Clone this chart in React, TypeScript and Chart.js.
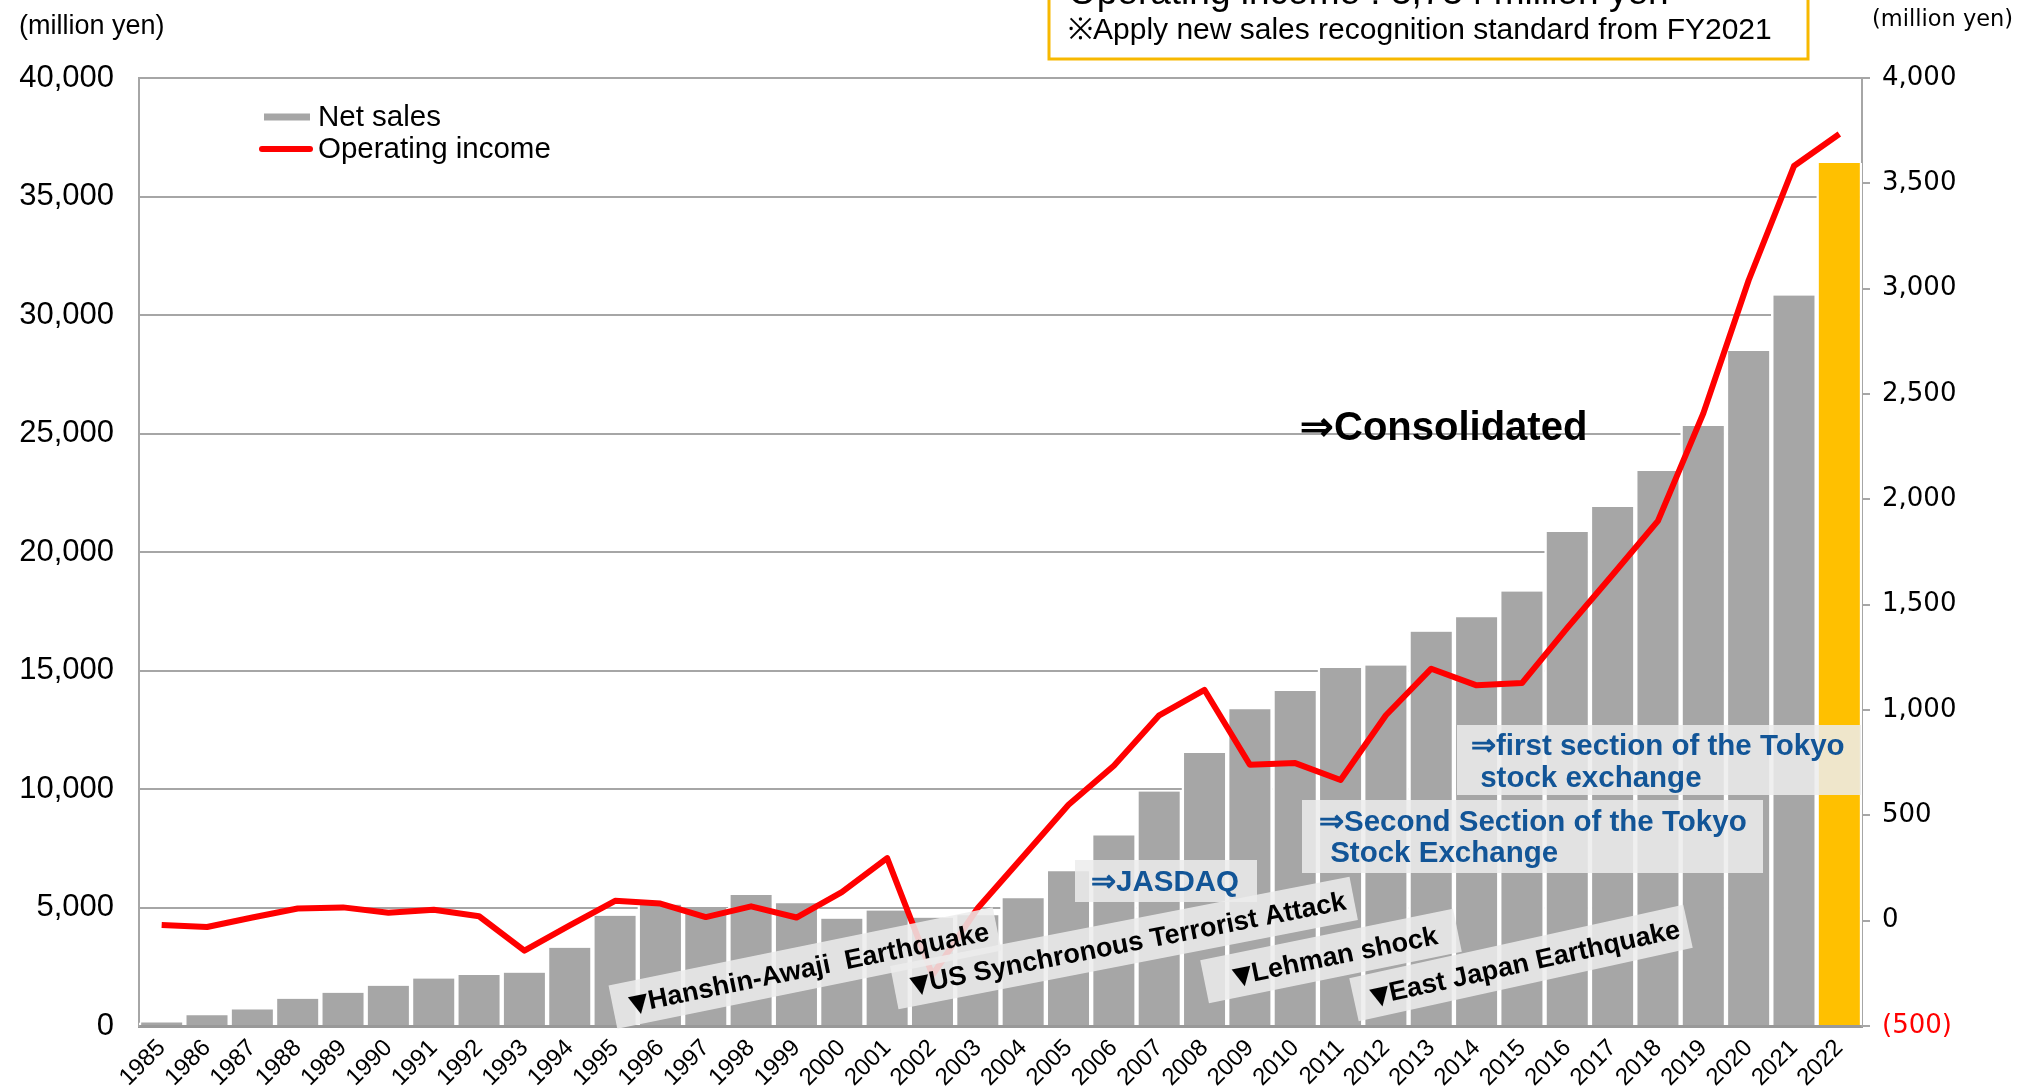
import React, { useEffect, useRef } from "react";
import { Chart, registerables } from "chart.js";

Chart.register(...registerables);

const years = [
  "1985", "1986", "1987", "1988", "1989", "1990", "1991", "1992", "1993", "1994",
  "1995", "1996", "1997", "1998", "1999", "2000", "2001", "2002", "2003", "2004",
  "2005", "2006", "2007", "2008", "2009", "2010", "2011", "2012", "2013", "2014",
  "2015", "2016", "2017", "2018", "2019", "2020", "2021", "2022",
];

const netSales = [
  150, 450, 700, 1150, 1400, 1700, 2000, 2150, 2250, 3300,
  4650, 5120, 4980, 5530, 5180, 4530, 4870, 4570, 4670, 5390,
  6530, 8040, 9890, 11520, 13370, 14140, 15110, 15210, 16640, 17250,
  18330, 20840, 21900, 23420, 25320, 28480, 30820, 36410,
];

const operatingIncome = [
  -20, -30, 15, 58, 63, 38, 52, 21, -142, -22,
  94, 81, 17, 68, 15, 135, 297, -258, 60, 305,
  550, 735, 975, 1095, 740, 748, 668, 975, 1196, 1117,
  1128, 1390, 1642, 1898, 2408, 3040, 3582, 3734,
];

const leftTicks = { min: 0, max: 40000, step: 5000 };
const rightTicks = { min: -500, max: 4000, step: 500 };

const seriesNames = ["Net sales", "Operating income"];
const unitLabel = "(million yen)";
const headlineLines = [
  "Operating income : 3,734 million yen",
  "※Apply new sales recognition standard from FY2021",
];
const consolidatedLabel = "⇒Consolidated";
const eventMarker = "▼";
const eventLabels = [
  "Hanshin-Awaji  Earthquake",
  "US Synchronous Terrorist Attack",
  "Lehman shock",
  "East Japan Earthquake",
];
const listingLabels = [
  ["⇒JASDAQ"],
  ["⇒Second Section of the Tokyo", " Stock Exchange"],
  ["⇒first section of the Tokyo", " stock exchange"],
];

const SANS = "'Liberation Sans', Arial, sans-serif";
const WIDE = "'DejaVu Sans', Verdana, sans-serif";
const GRAY_BAR = "#a6a6a6";
const GOLD = "#ffc000";
const BOX_FILL = "rgba(236,236,236,0.86)";
const BLUE = "#125597";

const overlayPlugin = {
  id: "overlay",
  afterDraw(chart: any) {
    const ctx: CanvasRenderingContext2D = chart.ctx;
    ctx.save();

    // unit labels
    ctx.fillStyle = "#000";
    ctx.textBaseline = "middle";
    ctx.textAlign = "left";
    ctx.font = `27px ${SANS}`;
    ctx.fillText(unitLabel, 19, 27);
    ctx.font = `22.5px ${WIDE}`;
    ctx.fillText(unitLabel, 1872, 20);

    // legend
    ctx.lineCap = "butt";
    ctx.strokeStyle = GRAY_BAR;
    ctx.lineWidth = 7;
    ctx.beginPath();
    ctx.moveTo(264, 117);
    ctx.lineTo(310, 117);
    ctx.stroke();
    ctx.strokeStyle = "#ff0000";
    ctx.lineWidth = 6;
    ctx.lineCap = "round";
    ctx.beginPath();
    ctx.moveTo(262, 149);
    ctx.lineTo(310, 149);
    ctx.stroke();
    ctx.fillStyle = "#000";
    ctx.font = `29.5px ${SANS}`;
    ctx.fillText(seriesNames[0], 318, 118);
    ctx.fillText(seriesNames[1], 318, 150);

    // headline box (cut at top)
    ctx.fillStyle = "#fff";
    ctx.fillRect(1049, -40, 759, 99);
    ctx.strokeStyle = "#f7b800";
    ctx.lineWidth = 3;
    ctx.strokeRect(1049, -40, 759, 99);
    ctx.fillStyle = "#000";
    ctx.textBaseline = "alphabetic";
    ctx.font = `37px ${SANS}`;
    ctx.fillText(headlineLines[0], 1068, 4);
    ctx.font = `30px ${SANS}`;
    ctx.fillText(headlineLines[1], 1068, 39);

    // consolidated
    ctx.textBaseline = "middle";
    ctx.font = `bold 40px ${SANS}`;
    ctx.fillText(consolidatedLabel, 1300, 429);

    // listing boxes
    const drawListing = (x: number, y: number, w: number, h: number, lines: string[], tx: number[], ty: number[]) => {
      ctx.fillStyle = BOX_FILL;
      ctx.fillRect(x, y, w, h);
      ctx.fillStyle = BLUE;
      ctx.font = `bold 29.5px ${SANS}`;
      lines.forEach((l, i) => ctx.fillText(l, tx[i], ty[i]));
    };
    drawListing(1075, 860, 182, 42, listingLabels[0], [1091], [883]);
    drawListing(1302, 800, 461, 73, listingLabels[1], [1319, 1322], [823, 854]);
    drawListing(1457, 725, 404, 70, listingLabels[2], [1471, 1472], [747, 779]);

    // rotated event boxes
    const drawEvent = (cx: number, cy: number, w: number, h: number, deg: number, text: string) => {
      ctx.save();
      ctx.translate(cx, cy);
      ctx.rotate((-deg * Math.PI) / 180);
      ctx.fillStyle = BOX_FILL;
      ctx.fillRect(-w / 2, -h / 2, w, h);
      ctx.fillStyle = "#000";
      ctx.textAlign = "left";
      ctx.textBaseline = "middle";
      ctx.font = `bold 25px ${WIDE}`;
      const mw = ctx.measureText(eventMarker).width;
      ctx.font = `bold 27px ${SANS}`;
      const tw = ctx.measureText(text).width;
      const start = -(mw + tw) / 2 + 4;
      ctx.font = `bold 25px ${WIDE}`;
      ctx.fillText(eventMarker, start, 3);
      ctx.font = `bold 27px ${SANS}`;
      ctx.fillText(text, start + mw, 2);
      ctx.restore();
    };
    drawEvent(805, 968, 392, 44, 11.5, eventLabels[0]);
    drawEvent(1124, 943, 468, 44, 11, eventLabels[1]);
    drawEvent(1331, 956, 258, 44, 11.5, eventLabels[2]);
    drawEvent(1521, 963, 342, 44, 12.4, eventLabels[3]);

    ctx.restore();
  },
};

export default function App() {
  const ref = useRef<HTMLCanvasElement | null>(null);

  useEffect(() => {
    document.body.style.margin = "0";
    if (!ref.current) return;
    const last = years.length - 1;
    const chart = new Chart(ref.current, {
      type: "bar",
      data: {
        labels: years,
        datasets: [
          {
            type: "line",
            label: seriesNames[1],
            data: operatingIncome,
            yAxisID: "y1",
            borderColor: "#ff0000",
            borderWidth: 6,
            borderJoinStyle: "round",
            pointRadius: 0,
            tension: 0,
            order: 0,
          } as any,
          {
            type: "bar",
            label: seriesNames[0],
            data: netSales,
            yAxisID: "y",
            backgroundColor: (c: any) => (c.dataIndex === last ? GOLD : GRAY_BAR),
            borderColor: "#ffffff",
            borderWidth: { left: 2.5, right: 2.5, top: 0, bottom: 0 },
            borderSkipped: false,
            barPercentage: 1,
            categoryPercentage: 1,
            order: 1,
          } as any,
        ],
      },
      options: {
        responsive: false,
        animation: false,
        devicePixelRatio: 1,
        layout: { padding: { top: 78, left: 0, right: 0, bottom: 0 } },
        plugins: {
          legend: { display: false },
          tooltip: { enabled: false },
          title: { display: false },
        },
        scales: {
          x: {
            offset: true,
            grid: { display: false, drawTicks: false },
            border: { display: true, color: "#999999", width: 3 },
            ticks: {
              autoSkip: false,
              maxRotation: 45,
              minRotation: 45,
              padding: 8,
              color: "#000",
              font: { family: SANS, size: 24 },
            },
            afterFit: (s: any) => {
              s.height = 63;
            },
          },
          y: {
            position: "left",
            min: leftTicks.min,
            max: leftTicks.max,
            ticks: {
              stepSize: leftTicks.step,
              padding: 25,
              color: "#000",
              font: { family: SANS, size: 31 },
              callback: (v: any) => Number(v).toLocaleString("en-US"),
            },
            grid: { color: "#a6a6a6", lineWidth: 2, drawTicks: false },
            border: { display: true, color: "#a6a6a6", width: 2 },
            afterFit: (s: any) => {
              s.width = 139;
            },
          },
          y1: {
            position: "right",
            min: rightTicks.min,
            max: rightTicks.max,
            ticks: {
              stepSize: rightTicks.step,
              padding: 12,
              color: (c: any) => (c.tick && c.tick.value < 0 ? "#ff0000" : "#000"),
              font: { family: WIDE, size: 26 },
              callback: (v: any) =>
                Number(v) < 0 ? `(${Math.abs(Number(v)).toLocaleString("en-US")})` : Number(v).toLocaleString("en-US"),
            },
            grid: { drawOnChartArea: false, drawTicks: true, tickLength: 8, color: "#a6a6a6", lineWidth: 2 },
            border: { display: true, color: "#a6a6a6", width: 2 },
            afterFit: (s: any) => {
              s.width = 156;
            },
          },
        },
      } as any,
      plugins: [overlayPlugin],
    });
    return () => chart.destroy();
  }, []);

  return (
    <div style={{ width: 2018, height: 1089, background: "#fff" }}>
      <canvas ref={ref} width={2018} height={1089} style={{ display: "block" }} />
    </div>
  );
}
